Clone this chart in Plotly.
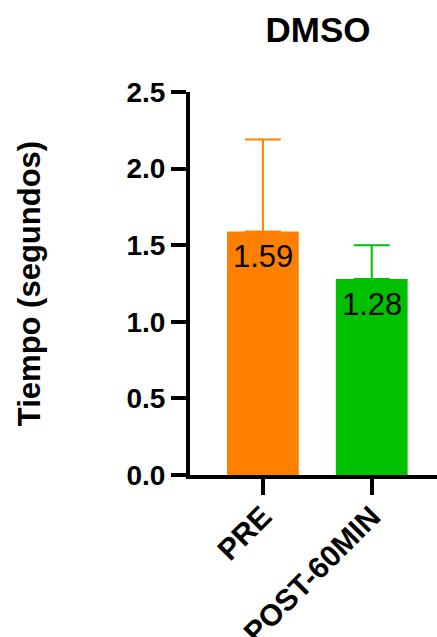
import plotly.graph_objects as go

# Group labels, means and upper error (SD) for the DMSO condition
groups = ["PRE", "POST-60MIN"]
means = [1.59, 1.28]
errors = [0.60, 0.22]
colors = ["#FF8000", "#00C000"]

FONT = "Liberation Sans, Arial, sans-serif"

fig = go.Figure()
for g, m, e, c in zip(groups, means, errors, colors):
    fig.add_trace(go.Bar(
        x=[g], y=[m], width=0.66,
        marker=dict(color=c, line=dict(width=0)),
        error_y=dict(type="data", array=[e], arrayminus=[0], symmetric=False,
                     color=c, thickness=2, width=18),
        showlegend=False,
    ))
    fig.add_annotation(x=g, y=m, text=f"{m:.2f}", showarrow=False,
                       yanchor="top", yshift=-6,
                       font=dict(family=FONT, size=31, color="black"))

fig.update_layout(
    width=437, height=637,
    margin=dict(l=190, r=0, t=92, b=162, autoexpand=False),
    paper_bgcolor="white", plot_bgcolor="white",
    title=dict(text="DMSO", x=318 / 437, xanchor="center", xref="container",
               y=1 - 30 / 637, yanchor="middle", yref="container",
               font=dict(family=FONT, size=35, color="black", weight="bold")),
)
fig.update_xaxes(
    type="category", range=[-0.67, 1.6],
    showline=True, linecolor="black", linewidth=4,
    ticks="outside", ticklen=16, tickwidth=3.5, tickcolor="black",
    tickangle=-45, ticklabelstandoff=-8,
    tickfont=dict(family=FONT, size=30, color="black", weight="bold"),
    showgrid=False, zeroline=False, automargin=False,
)
fig.update_yaxes(
    range=[0, 2.5], tickvals=[0, 0.5, 1.0, 1.5, 2.0, 2.5],
    ticktext=["0.0", "0.5", "1.0", "1.5", "2.0", "2.5"],
    showline=True, linecolor="black", linewidth=4,
    ticks="outside", ticklen=15, tickwidth=3.5, tickcolor="black",
    ticklabelstandoff=0,
    tickfont=dict(family=FONT, size=28, color="black", weight="bold"),
    title=dict(text="Tiempo (segundos)", standoff=78,
               font=dict(family=FONT, size=31, color="black", weight="bold")),
    showgrid=False, zeroline=False, automargin=False,
)

fig.write_html("out.html")
